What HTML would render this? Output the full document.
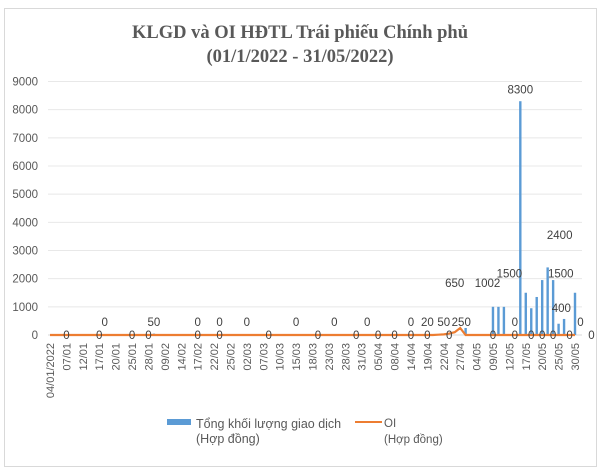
<!DOCTYPE html>
<html><head><meta charset="utf-8">
<style>
html,body{margin:0;padding:0;background:#fff;}
svg{display:block;font-family:"Liberation Sans",sans-serif;}
</style></head>
<body>
<svg id="chart" width="602" height="467" viewBox="0 0 602 467" xmlns="http://www.w3.org/2000/svg">
<rect x="4.5" y="8.5" width="592" height="458" fill="#fff" stroke="#d9d9d9"/>
<text x="300" y="38" text-anchor="middle" font-family="'Liberation Serif',serif" font-weight="bold" font-size="18.5" fill="#595959">KLGD và OI HĐTL Trái phiếu Chính phủ</text>
<text x="300" y="62" text-anchor="middle" font-family="'Liberation Serif',serif" font-weight="bold" font-size="18.5" fill="#595959">(01/1/2022 - 31/05/2022)</text>
<g id="grid"></g><g id="yaxis"></g><g id="bars"></g><g id="line"></g><g id="labels"></g><g id="xaxis"></g>
<g>
<rect x="167" y="419" width="24" height="6" fill="#5b9bd5"/>
<text x="196" y="428" font-size="12.5" fill="#595959">Tổng khối lượng giao dịch</text>
<text x="196" y="443" font-size="12.5" fill="#595959">(Hợp đồng)</text>
<line x1="355" y1="422" x2="382" y2="422" stroke="#ed7d31" stroke-width="2"/>
<text x="384" y="427" font-size="11.5" fill="#595959">OI</text>
<text x="384" y="443" font-size="11.5" fill="#595959">(Hợp đồng)</text>
</g>
</svg>
<script>
const NS="http://www.w3.org/2000/svg";
const xLabels=["04/01/2022","07/01","12/01","17/01","20/01","25/01","28/01","09/02","14/02","17/02","22/02","25/02","02/03","07/03","10/03","15/03","18/03","23/03","28/03","31/03","05/04","08/04","14/04","19/04","22/04","27/04","04/05","09/05","12/05","17/05","20/05","25/05","30/05"];
const yTicks=[0,1000,2000,3000,4000,5000,6000,7000,8000,9000];
const barIdx=[19,76,81,82,83,86,87,88,89,90,91,92,93,94,96];
const barVal=[50,250,1002,1000,1000,8300,1500,950,1350,1950,2400,1950,400,570,1500];
const oiIdx=[0,70,72,73,74,75,76,96];
const oiVal=[0,0,20,50,100,250,0,0];
const lblIdx=[10,19,27,31,36,45,52,58,66,69,72,75.2,74,80,84,85,86,93.2,93.4,93.5,97];
const lblText=["0","50","0","0","0","0","0","0","0","20","50","250","650","1002","1500","0","8300","2400","1500","400","0"];
const lblVal=[320,320,320,320,320,320,320,320,320,320,320,320,1700,1700,2050,320,8575,3400,2050,815,320];
const zeroIdx=[3,9,15,18,27,31,40,49,56,60,63,66,69,73,81,85,88,90,92,95,99];
const N=97, X0=50, X1=575, Y0=335, Y9=81.5;
const x=i=>X0+(X1-X0)*i/(N-1);
const y=v=>Y0-(Y0-Y9)*v/9000;
function mk(t,a,p){const e=document.createElementNS(NS,t);for(const k in a)e.setAttribute(k,a[k]);document.getElementById(p).appendChild(e);return e;}
yTicks.forEach(v=>{
 if(v>0){const g=mk('line',{x1:48,x2:582,y1:y(v),y2:y(v),stroke:'#e8e8e8'},'grid');
 
 }
 const t=mk('text',{x:38,y:y(v)+4,'text-anchor':'end','font-size':11.5,fill:'#595959'},'yaxis');t.textContent=v;
 
 
});
const ax=mk('line',{x1:48,x2:582,y1:Y0,y2:Y0,stroke:'#d9d9d9'},'grid');


barIdx.forEach((i,k)=>{
 const b=mk('rect',{x:x(i)-1.2,y:y(barVal[k]),width:2.4,height:Y0-y(barVal[k]),fill:'#5b9bd5'},'bars');
 
 
});
let pts=[];
for(let i=0;i<N;i++){let v=0;const k=oiIdx.indexOf(i);
 if(k>=0)v=oiVal[k];else{for(let j=0;j<oiIdx.length-1;j++)if(i>oiIdx[j]&&i<oiIdx[j+1]){v=oiVal[j]+(oiVal[j+1]-oiVal[j])*(i-oiIdx[j])/(oiIdx[j+1]-oiIdx[j]);}}
 pts.push(x(i).toFixed(1)+','+y(v).toFixed(1));}
const pl=mk('polyline',{points:pts.join(' '),fill:'none',stroke:'#ed7d31','stroke-width':2.2},'line');


lblIdx.forEach((i,k)=>{
 const t=mk('text',{x:x(i),y:y(lblVal[k]),'text-anchor':'middle','font-size':11.5,fill:'#404040'},'labels');t.textContent=lblText[k];
 
 
});
zeroIdx.forEach((i,k)=>{
 const t=mk('text',{x:x(i),y:Y0+4,'text-anchor':'middle','font-size':11.5,fill:'#404040'},'labels');t.textContent='0';
 
 
});
xLabels.forEach((l,k)=>{
 const xx=x(k*3)+4;
 const t=mk('text',{x:xx,y:343,'text-anchor':'end','font-size':11,fill:'#595959',transform:`rotate(-90 ${xx} 343)`},'xaxis');t.textContent=l;
 
 
});
</script>
</body></html>
